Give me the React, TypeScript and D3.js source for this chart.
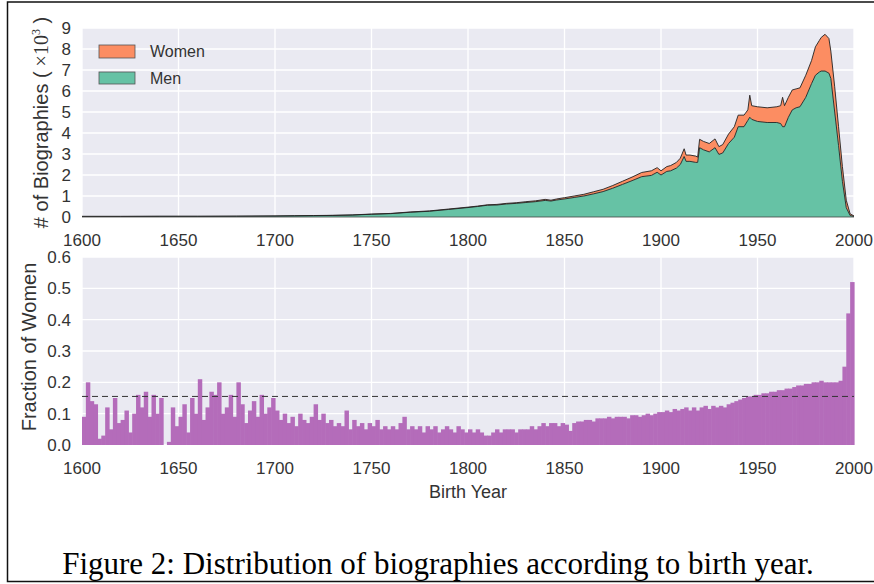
import React from 'react'
import * as d3 from 'd3'

// years sampled for the counts chart (thousands of biographies)
const topYears = [
	1600, 1620, 1640, 1660, 1680, 1700, 1710, 1720, 1730, 1740, 1750, 1760, 1770, 1780, 1790,
	1800, 1805, 1810, 1815, 1820, 1825, 1830, 1835, 1840, 1843, 1846, 1850, 1855, 1860, 1865,
	1870, 1875, 1880, 1885, 1890, 1895, 1898, 1900, 1903, 1905, 1908, 1910, 1912, 1913, 1915,
	1918, 1919, 1920, 1922, 1925, 1928, 1930, 1932, 1935, 1938, 1940, 1943, 1945, 1946, 1947,
	1950, 1955, 1960, 1962, 1963, 1964, 1966, 1968, 1970, 1972, 1975, 1978, 1980, 1982, 1983,
	1985, 1987, 1988, 1990, 1992, 1994, 1996, 1998, 2000,
]
const menK = [
	0.027, 0.027, 0.031, 0.031, 0.036, 0.045, 0.055, 0.064, 0.074, 0.092, 0.13, 0.16, 0.225, 0.273, 0.36,
	0.45, 0.5, 0.56, 0.57, 0.62, 0.65, 0.69, 0.73, 0.79, 0.76, 0.81, 0.86, 0.93, 1.0, 1.1,
	1.21, 1.37, 1.55, 1.73, 1.92, 1.98, 2.13, 2.0, 2.17, 2.2, 2.33, 2.5, 2.88, 2.65, 2.65,
	2.6, 2.6, 3.3, 3.2, 3.1, 3.3, 2.98, 3.05, 3.5, 3.8, 4.3, 4.3, 4.6, 4.75, 4.65,
	4.55, 4.5, 4.5, 4.45, 4.3, 4.3, 4.75, 5.1, 5.2, 5.25, 5.7, 6.35, 6.75, 6.9, 6.95,
	6.95, 6.85, 6.6, 5.0, 3.4, 1.7, 0.44, 0.07, 0.025,
]
const womenK = [
	0.003, 0.003, 0.004, 0.004, 0.004, 0.005, 0.005, 0.006, 0.006, 0.008, 0.01, 0.01, 0.015, 0.017, 0.02,
	0.02, 0.02, 0.02, 0.03, 0.03, 0.03, 0.04, 0.04, 0.05, 0.04, 0.05, 0.06, 0.07, 0.08, 0.1,
	0.11, 0.13, 0.15, 0.17, 0.2, 0.22, 0.22, 0.2, 0.23, 0.25, 0.27, 0.3, 0.37, 0.3, 0.3,
	0.3, 0.25, 0.4, 0.4, 0.4, 0.42, 0.37, 0.4, 0.45, 0.5, 0.55, 0.55, 0.5, 1.05, 0.65,
	0.7, 0.7, 0.75, 0.85, 1.4, 1.0, 0.95, 0.95, 0.9, 0.9, 1.05, 1.1, 1.35, 1.5, 1.6,
	1.75, 1.65, 1.3, 1.2, 0.9, 0.7, 0.36, 0.08, 0.025,
]

// fraction of women, 2-year bins starting 1600
const fracStart = 1600
const fracStep = 2
const fractionWomen = [
	0.09, 0.2, 0.14, 0.13, 0.02, 0.03, 0.12, 0.05, 0.15, 0.07,
	0.08, 0.11, 0.04, 0.1, 0.16, 0.12, 0.17, 0.09, 0.16, 0.1,
	0.15, 0.0, 0.01, 0.12, 0.06, 0.09, 0.13, 0.04, 0.15, 0.1,
	0.21, 0.08, 0.12, 0.17, 0.16, 0.2, 0.1, 0.12, 0.16, 0.09,
	0.2, 0.13, 0.07, 0.11, 0.14, 0.09, 0.16, 0.1, 0.12, 0.15,
	0.11, 0.08, 0.1, 0.07, 0.09, 0.06, 0.1, 0.08, 0.07, 0.09,
	0.13, 0.08, 0.1, 0.07, 0.08, 0.06, 0.07, 0.06, 0.11, 0.05,
	0.08, 0.06, 0.07, 0.05, 0.07, 0.06, 0.08, 0.05, 0.06, 0.05,
	0.06, 0.05, 0.07, 0.09, 0.05, 0.06, 0.05, 0.06, 0.04, 0.06,
	0.05, 0.06, 0.04, 0.05, 0.06, 0.05, 0.04, 0.06, 0.05, 0.04,
	0.05, 0.04, 0.05, 0.04, 0.03, 0.03, 0.04, 0.05, 0.04, 0.05,
	0.05, 0.05, 0.04, 0.05, 0.05, 0.05, 0.06, 0.05, 0.06, 0.07,
	0.06, 0.07, 0.07, 0.06, 0.07, 0.065, 0.045, 0.07, 0.075, 0.075,
	0.08, 0.08, 0.075, 0.085, 0.085, 0.085, 0.09, 0.085, 0.09, 0.09,
	0.09, 0.085, 0.095, 0.095, 0.09, 0.095, 0.1, 0.095, 0.1, 0.105,
	0.105, 0.11, 0.105, 0.115, 0.11, 0.115, 0.12, 0.11, 0.12, 0.11,
	0.12, 0.125, 0.115, 0.125, 0.12, 0.125, 0.12, 0.13, 0.135, 0.14,
	0.145, 0.15, 0.155, 0.155, 0.16, 0.16, 0.165, 0.165, 0.17, 0.17,
	0.175, 0.175, 0.18, 0.18, 0.185, 0.19, 0.19, 0.195, 0.195, 0.2,
	0.2, 0.205, 0.2, 0.2, 0.2, 0.2, 0.205, 0.25, 0.42, 0.52,
]
const meanFraction = 0.155

const xTicks = [1600, 1650, 1700, 1750, 1800, 1850, 1900, 1950, 2000]
const topYTicks = [0, 1, 2, 3, 4, 5, 6, 7, 8, 9]
const bottomYTicks = [0, 0.1, 0.2, 0.3, 0.4, 0.5, 0.6]

const W = 874, H = 584
const left = 82, right = 854
const topPlot = { top: 28, bottom: 217 }
const botPlot = { top: 257, bottom: 445 }

const bg = '#EAEAF2'
const tickFont = 'Liberation Sans, Arial, sans-serif'
const tickColor = '#333'

const App = () => {
	const x = d3.scaleLinear().domain([1600, 2000]).range([left, right])
	const yTop = d3.scaleLinear().domain([0, 9]).range([topPlot.bottom, topPlot.top])
	const yBot = d3.scaleLinear().domain([0, 0.6]).range([botPlot.bottom, botPlot.top])

	const rows = topYears.map((yr, i) => ({ yr, men: menK[i], total: menK[i] + womenK[i] }))

	const menArea = d3.area<any>().x((d) => x(d.yr)).y0(yTop(0)).y1((d) => yTop(d.men))
	const womenArea = d3.area<any>().x((d) => x(d.yr)).y0((d) => yTop(d.men)).y1((d) => yTop(d.total))
	const menLine = d3.line<any>().x((d) => x(d.yr)).y((d) => yTop(d.men))
	const totalLine = d3.line<any>().x((d) => x(d.yr)).y((d) => yTop(d.total))

	const grid = (yScale: any, ticks: number[], p: { top: number; bottom: number }) => (
		<g>
			<rect x={left} y={p.top} width={right - left} height={p.bottom - p.top} fill={bg} />
			{xTicks.map((t) => (
				<line key={'v' + t} x1={x(t)} x2={x(t)} y1={p.top} y2={p.bottom} stroke="#fff" strokeWidth={1.3} />
			))}
			{ticks.map((t) => (
				<line key={'h' + t} x1={left} x2={right} y1={yScale(t)} y2={yScale(t)} stroke="#fff" strokeWidth={1.3} />
			))}
		</g>
	)

	return (
		<svg width={W} height={H} style={{ position: 'absolute', left: 0, top: 0, background: '#fff' }}>
			{/* frame */}
			<path d={`M874,2 H7.5 V581.5 H874`} fill="none" stroke="#111" strokeWidth={1.5} />

			{/* top chart */}
			{grid(yTop, topYTicks, topPlot)}
			<path d={womenArea(rows)!} fill="#FC8D62" />
			<path d={menArea(rows)!} fill="#66C2A5" />
			<path d={totalLine(rows)!} fill="none" stroke="#222" strokeWidth={0.9} />
			<path d={menLine(rows)!} fill="none" stroke="#222" strokeWidth={0.9} />
			<line x1={left} x2={right} y1={yTop(0)} y2={yTop(0)} stroke="#444" strokeWidth={0.8} />

			{topYTicks.map((t) => (
				<text key={t} x={71} y={yTop(t)} dy="0.35em" textAnchor="end" fontFamily={tickFont} fontSize={17} fill={tickColor}>
					{t}
				</text>
			))}
			{xTicks.map((t) => (
				<text key={t} x={x(t)} y={246} textAnchor="middle" fontFamily={tickFont} fontSize={17} fill={tickColor}>
					{t}
				</text>
			))}
			<text transform={`translate(48,${(topPlot.top + topPlot.bottom) / 2}) rotate(-90)`} textAnchor="middle" fontFamily={tickFont} fontSize={20} fill={tickColor}>
				# of Biographies (
				<tspan fontFamily="Liberation Serif, serif"> ×10</tspan>
				<tspan fontFamily="Liberation Serif, serif" fontSize={12} dy={-8}>3</tspan>
				<tspan dy={8}> )</tspan>
			</text>

			{/* legend */}
			<rect x={99} y={45} width={36} height={13} fill="#FC8D62" stroke="#555" strokeWidth={0.8} />
			<text x={150} y={51.5} dy="0.35em" fontFamily={tickFont} fontSize={16} fill={tickColor}>Women</text>
			<rect x={99} y={72} width={36} height={12} fill="#66C2A5" stroke="#555" strokeWidth={0.8} />
			<text x={150} y={78} dy="0.35em" fontFamily={tickFont} fontSize={16} fill={tickColor}>Men</text>

			{/* bottom chart */}
			{grid(yBot, bottomYTicks, botPlot)}
			{fractionWomen.map((v, i) => {
				const yr = fracStart + i * fracStep
				return (
					<rect key={yr} x={x(yr)} y={yBot(v)} width={x(yr + fracStep) - x(yr) + 0.6} height={yBot(0) - yBot(v)} fill="#B46CBA" />
				)
			})}
			<line x1={left} x2={right} y1={yBot(meanFraction)} y2={yBot(meanFraction)} stroke="#333" strokeWidth={1} strokeDasharray="6,4" />

			{bottomYTicks.map((t) => (
				<text key={t} x={71} y={yBot(t)} dy="0.35em" textAnchor="end" fontFamily={tickFont} fontSize={17} fill={tickColor}>
					{t.toFixed(1)}
				</text>
			))}
			{xTicks.map((t) => (
				<text key={t} x={x(t)} y={474} textAnchor="middle" fontFamily={tickFont} fontSize={17} fill={tickColor}>
					{t}
				</text>
			))}
			<text x={(left + right) / 2} y={498} textAnchor="middle" fontFamily={tickFont} fontSize={18} fill={tickColor}>
				Birth Year
			</text>
			<text transform={`translate(36,${(botPlot.top + botPlot.bottom) / 2 - 4}) rotate(-90)`} textAnchor="middle" fontFamily={tickFont} fontSize={20} fill={tickColor}>
				Fraction of Women
			</text>

			{/* caption */}
			<text x={438} y={574} textAnchor="middle" fontFamily="Liberation Serif, Times New Roman, serif" fontSize={31} fill="#000">
				Figure 2: Distribution of biographies according to birth year.
			</text>
		</svg>
	)
}

export default App
